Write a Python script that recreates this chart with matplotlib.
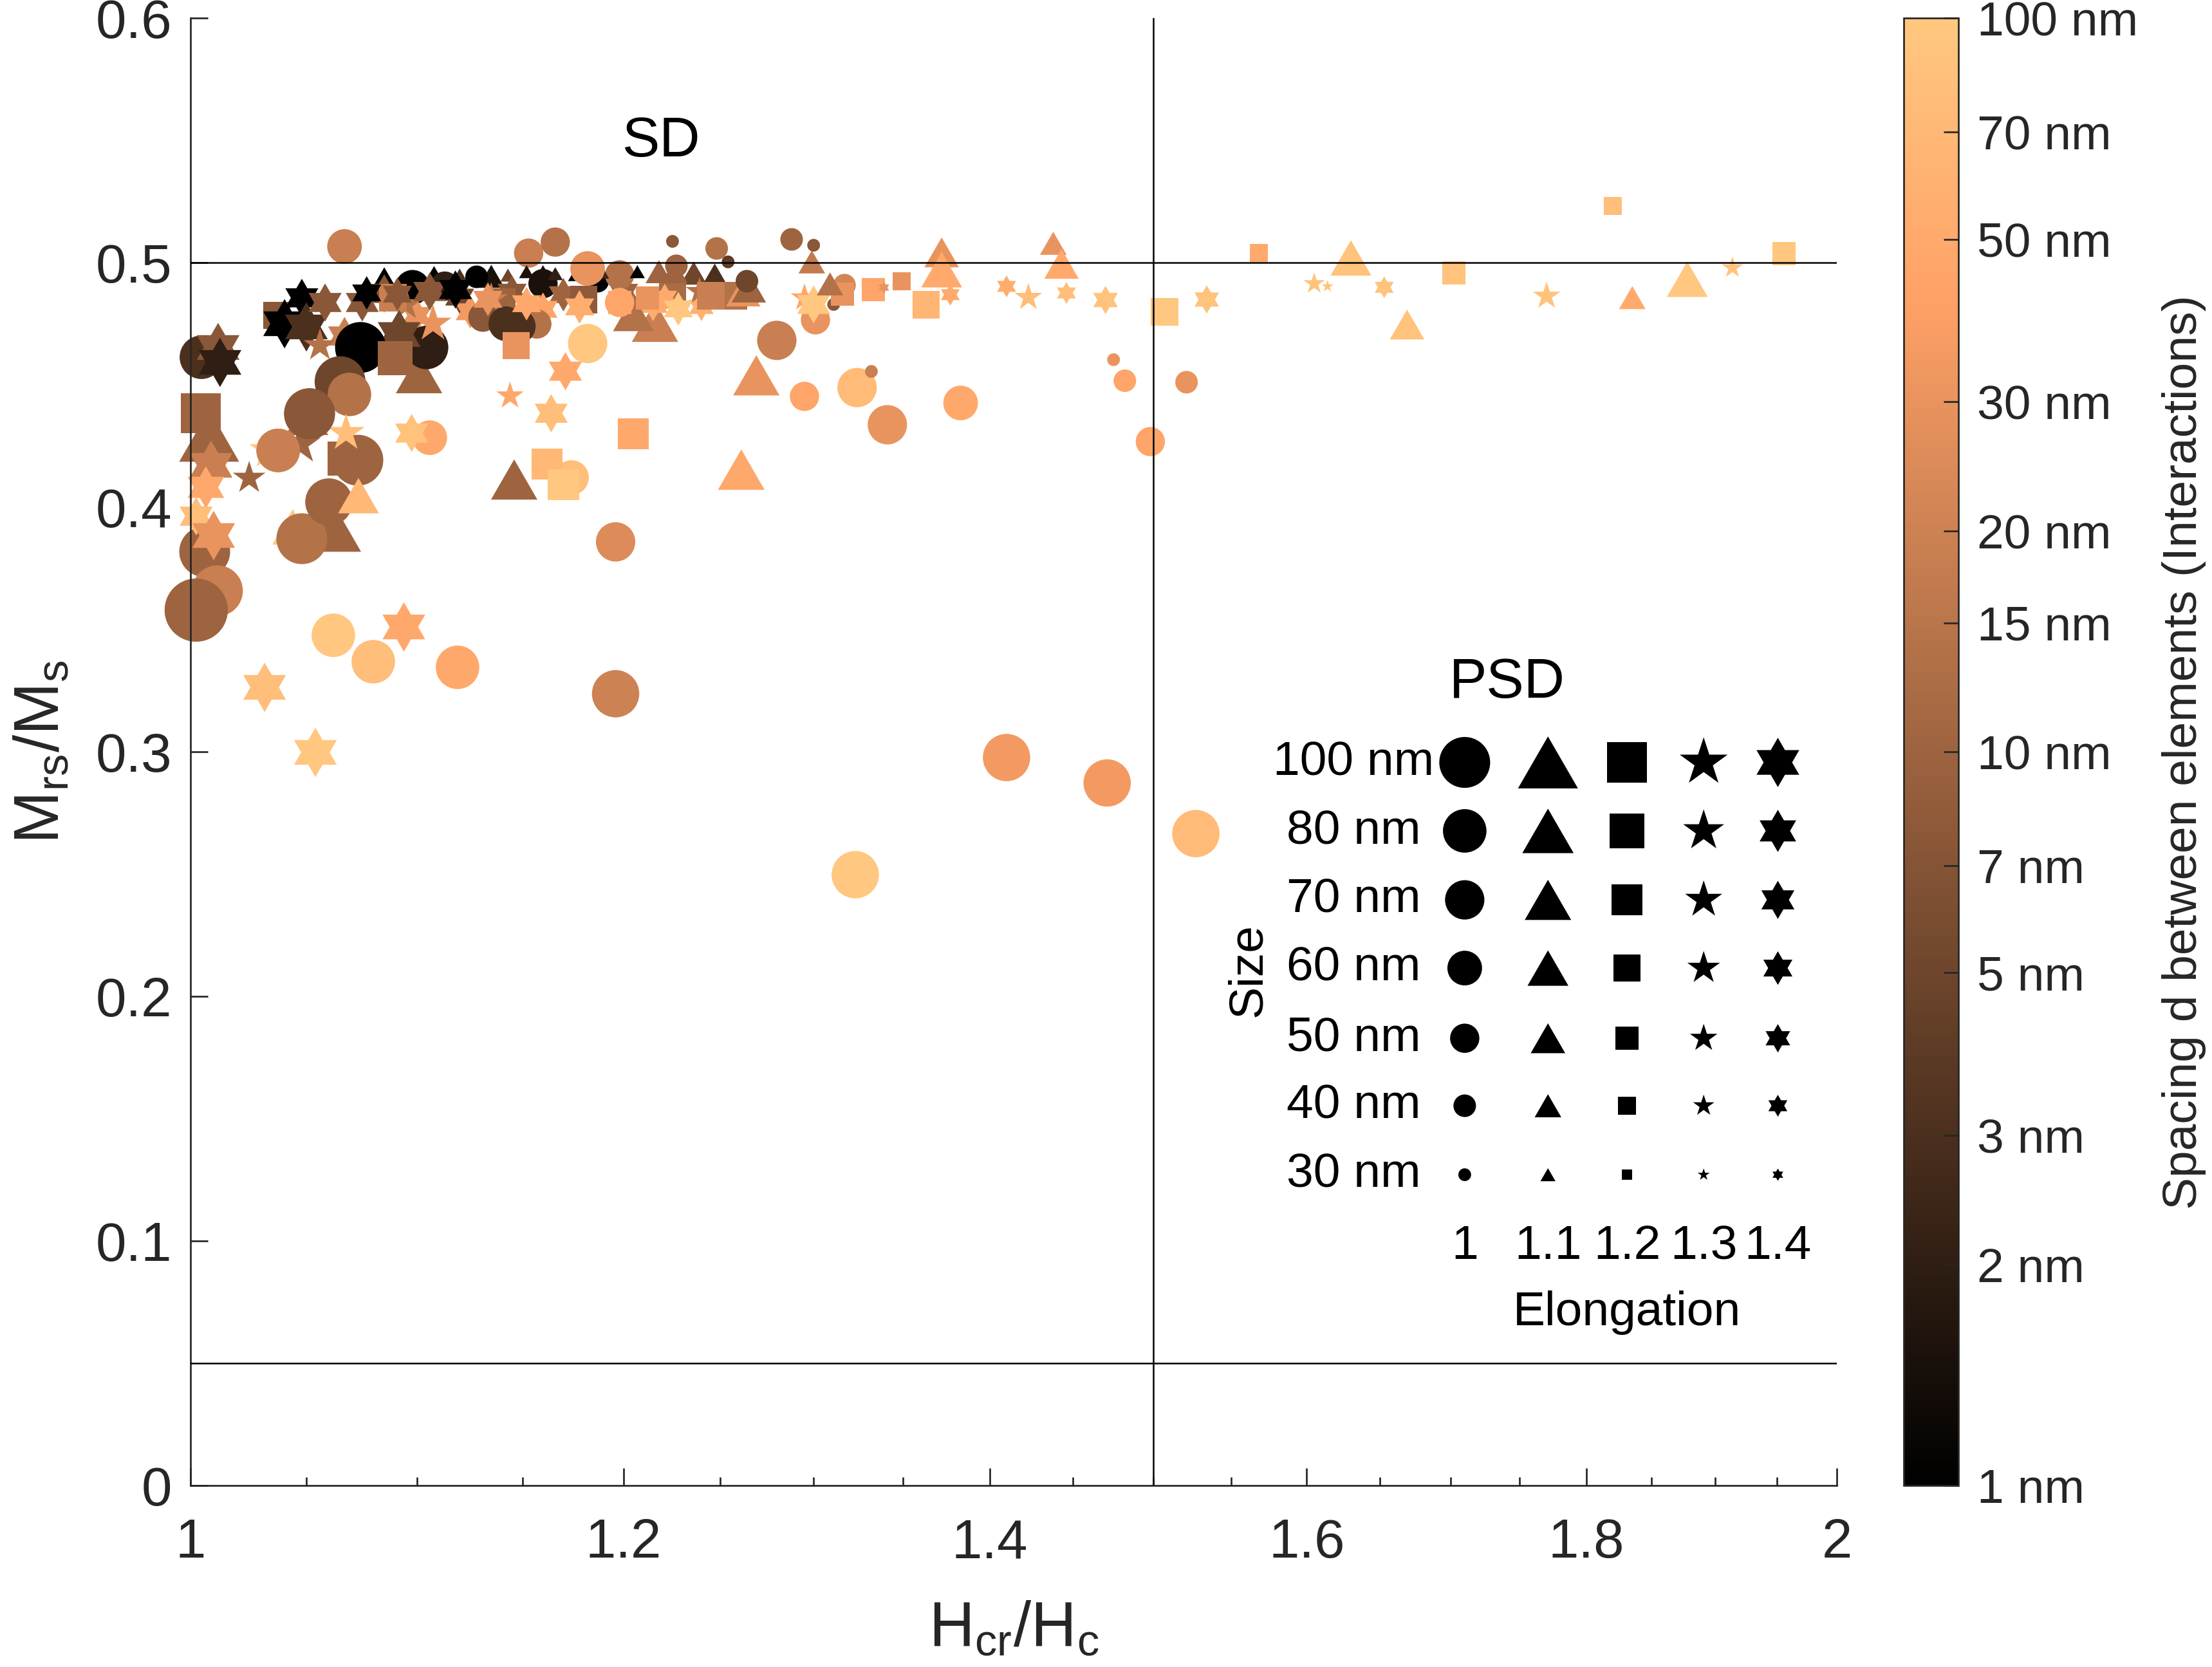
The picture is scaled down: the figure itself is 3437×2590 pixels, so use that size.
import numpy as np
import matplotlib
matplotlib.use('Agg')
import matplotlib.pyplot as plt
from matplotlib.colors import LogNorm
from matplotlib.path import Path
from matplotlib.ticker import FixedLocator, NullLocator, FixedFormatter, NullFormatter
import matplotlib.cm as cm

plt.rcParams['font.family'] = ['Liberation Sans', 'DejaVu Sans']
plt.rcParams['mathtext.default'] = 'regular'

# ---------------- data ----------------
# elongation: 1 -> circle, 1.1 -> triangle, 1.2 -> square, 1.3 -> pentagram, 1.4 -> hexagram
elongation = [
    1.1, 1.1, 1.1, 1.1, 1.1, 1.1, 1.1, 1.1, 1.1, 1.1,
    1.0, 1.0, 1.0, 1.0,
    1.4, 1.4, 1.4, 1.4, 1.4, 1.2, 1.2, 1.2, 1.2, 1.4, 1.4, 1.4, 1.3, 1.3, 1.4,
    1.2, 1.0, 1.4, 1.4, 1.2, 1.1, 1.4, 1.4, 1.0, 1.4, 1.0, 1.4, 1.0, 1.4, 1.3, 1.4,
    1.4, 1.4, 1.3, 1.4, 1.4, 1.0, 1.0, 1.0, 1.2,
    1.0, 1.0, 1.0, 1.0, 1.0, 1.1, 1.1, 1.0, 1.2, 1.0, 1.0, 1.3, 1.4, 1.2, 1.3, 1.1,
    1.1, 1.4, 1.3, 1.0, 1.0, 1.0, 1.0, 1.0,
    1.0, 1.1, 1.0, 1.0, 1.0, 1.0, 1.0, 1.1,
    1.0, 1.0, 1.0, 1.4, 1.3, 1.4, 1.2, 1.1, 1.0, 1.2, 1.2,
    1.4, 1.4, 1.4, 1.4, 1.1, 1.1, 1.2, 1.3, 1.2, 1.1, 1.1, 1.0,
    1.1, 1.1, 1.1, 1.1, 1.1, 1.0, 1.0, 1.1, 1.1, 1.0, 1.2, 1.0, 1.0, 1.2, 1.4,
    1.0, 1.0, 1.4, 1.4, 1.2, 1.1, 1.4, 1.4, 1.3, 1.0, 1.3, 1.0, 1.4, 1.3,
    1.0, 1.0, 1.0, 1.0, 1.2, 1.1, 1.4, 1.4, 1.0, 1.3, 1.0, 1.2, 1.2, 1.1,
    1.0, 1.0, 1.4, 1.4, 1.4, 1.0, 1.0, 1.4, 1.0, 1.4, 1.4, 1.0, 1.1, 1.1,
    1.0, 1.0,
    1.0, 1.0, 1.0, 1.0, 1.1, 1.1, 1.1, 1.3, 1.3, 1.1, 1.1, 1.1, 1.3, 1.3,
    1.4, 1.4, 1.2, 1.4, 1.2, 1.4, 1.2, 1.2, 1.2, 1.2, 1.0,
]
hcr_hc = [
    1.085, 1.097, 1.108, 1.120, 1.135, 1.143, 1.176, 1.196, 1.236, 1.247,
    1.098, 1.113, 1.160, 1.187,
    1.085, 1.120, 1.145, 1.170, 1.200, 1.140, 1.180, 1.225, 1.257, 1.100, 1.125, 1.160, 1.095, 1.135, 1.240,
    1.037, 1.128, 1.048, 1.0404, 1.089, 1.101, 1.050, 1.0583, 1.131, 1.067, 1.142, 1.075, 1.1045, 1.077, 1.056, 1.0918,
    1.091, 1.106, 1.1075, 1.118, 1.1334, 1.0742, 1.065, 1.0692, 1.090,
    1.067, 1.0046, 1.0376, 1.0514, 1.006, 1.044, 1.0597, 1.048, 1.0044, 1.060, 1.073, 1.025, 1.0503, 1.067, 1.0474, 1.0079,
    1.0733, 1.0087, 1.0333, 1.0114, 1.0024, 1.062, 1.080, 1.119,
    1.153, 1.146, 1.166, 1.182, 1.174, 1.196, 1.196, 1.261,
    1.157, 1.148, 1.198, 1.171, 1.144, 1.164, 1.205, 1.216, 1.106, 1.147, 1.162,
    1.152, 1.178, 1.215, 1.221, 1.205, 1.269, 1.212, 1.239, 1.245, 1.262, 1.265, 1.264,
    1.152, 1.160, 1.166, 1.207, 1.189, 1.182, 1.198, 1.218, 1.226, 1.227, 1.198, 1.280, 1.295, 1.170, 1.228,
    1.225, 1.248, 1.0117, 1.0125, 1.0044, 1.299, 1.0065, 1.0024, 1.295, 1.317, 1.0677, 1.301, 1.300, 1.423,
    1.254, 1.288, 1.300, 1.311, 1.316, 1.309, 1.0098, 1.0976, 1.324, 1.0333, 1.332, 1.333, 1.349, 1.261,
    1.341, 1.383, 1.339, 1.377, 1.410, 1.471, 1.527, 1.0317, 1.323, 1.054, 1.094, 1.0376, 1.372, 1.372,
    1.0514, 1.0024,
    1.475, 1.482, 1.521, 1.498, 1.438, 1.443, 1.669, 1.770, 1.914, 1.878, 1.835, 1.630, 1.605, 1.614,
    1.446, 1.470, 1.363, 1.653, 1.568, 1.534, 1.507, 1.702, 1.820, 1.956, 1.410,
]
mrs_ms = [
    0.4935, 0.4945, 0.4940, 0.4950, 0.4945, 0.4950, 0.4952, 0.4950, 0.4958, 0.4950,
    0.4900, 0.4905, 0.4915, 0.4925,
    0.4875, 0.4860, 0.4880, 0.4870, 0.4880, 0.4840, 0.4850, 0.4870, 0.4865, 0.4785, 0.4800, 0.4810, 0.4830, 0.4850, 0.4820,
    0.4785, 0.4943, 0.4857, 0.4751, 0.4857, 0.4549, 0.4738, 0.4838, 0.4778, 0.4701, 0.4751, 0.4838, 0.4654, 0.4877, 0.4662, 0.4707,
    0.4872, 0.4883, 0.4751, 0.4891, 0.4851, 0.4654, 0.4514, 0.4462, 0.4610,
    0.5067, 0.4614, 0.4233, 0.4383, 0.3819, 0.3920, 0.3935, 0.3872, 0.4385, 0.4022, 0.4193, 0.4120, 0.4346, 0.4200, 0.4259, 0.4293,
    0.4048, 0.4172, 0.4233, 0.3659, 0.3580, 0.3477, 0.3369, 0.3346,
    0.5040, 0.4114, 0.5085, 0.4670, 0.4122, 0.3859, 0.3238, 0.4154,
    0.4750, 0.4741, 0.4951, 0.4557, 0.4456, 0.4385, 0.4301, 0.4759, 0.4285, 0.4662, 0.4178,
    0.4833, 0.4820, 0.4830, 0.4857, 0.4793, 0.4540, 0.4857, 0.4883, 0.4865, 0.4883, 0.4899, 0.4925,
    0.4964, 0.4964, 0.4956, 0.4964, 0.4962, 0.4977, 0.4838, 0.4964, 0.4964, 0.4988, 0.4838, 0.4683, 0.4454, 0.4093, 0.4812,
    0.5088, 0.5059, 0.4654, 0.4593, 0.4385, 0.5004, 0.4082, 0.3964, 0.4857, 0.4909, 0.4304, 0.4767, 0.4830, 0.4859,
    0.5004, 0.5096, 0.5072, 0.4830, 0.4872, 0.4914, 0.3885, 0.4304, 0.4490, 0.4233, 0.4556, 0.4891, 0.4925, 0.4154,
    0.4338, 0.4427, 0.4899, 0.4870, 0.4904, 0.2873, 0.2666, 0.3264, 0.2498, 0.2998, 0.3511, 0.4233, 0.5043, 0.4972,
    0.4383, 0.3580,
    0.4604, 0.4518, 0.4512, 0.4269, 0.5080, 0.4996, 0.4748, 0.4864, 0.4980, 0.4933, 0.4858, 0.5020, 0.4915, 0.4904,
    0.4877, 0.4848, 0.4828, 0.4900, 0.5040, 0.4850, 0.4800, 0.4960, 0.5233, 0.5037, 0.2977,
]
spacing_nm = [
    1, 2, 1, 3, 1.5, 5, 1, 3, 5, 3,
    1, 2, 1.5, 1,
    7.5, 5, 7.5, 10, 10, 10, 8, 12, 14, 30, 35, 45, 14, 19, 60,
    7.5, 1, 1, 1, 19, 10, 3, 7.5, 7.5, 19, 3, 7.5, 2, 1, 14, 5,
    7.5, 7.5, 30, 1, 30, 1, 5, 14, 10,
    19, 3, 19, 7.5, 10, 100, 10, 14, 10, 10, 10, 10, 14, 10, 10, 10,
    70, 19, 100, 19, 10, 100, 80, 48,
    19, 10, 14, 100, 80, 25, 20, 48,
    14, 3, 14, 48, 48, 80, 48, 19, 48, 30, 70,
    48, 55, 55, 50, 14, 30, 30, 14, 19, 30, 10, 5,
    1.5, 1.5, 2, 1, 2.5, 30, 45, 10, 10, 10, 45, 19, 45, 100, 100,
    7.5, 14, 7.5, 2, 10, 17, 48, 80, 45, 22, 80, 30, 100, 80,
    4, 10, 7.5, 7.5, 30, 14, 30, 90, 75, 100, 19, 45, 30, 48,
    30, 48, 30, 50, 55, 35, 75, 80, 100, 100, 48, 19, 30, 50,
    7.5, 10,
    30, 45, 30, 45, 30, 50, 90, 90, 90, 100, 50, 90, 90, 90,
    80, 90, 65, 90, 50, 90, 100, 90, 80, 100, 35,
]
size_nm = [
    40, 30, 40, 30, 40, 30, 30, 30, 40, 40,
    60, 50, 50, 40,
    70, 60, 60, 60, 60, 60, 60, 60, 60, 60, 60, 60, 60, 60, 50,
    60, 40, 70, 100, 60, 70, 100, 70, 50, 70, 60, 70, 80, 60, 60, 100,
    60, 70, 70, 70, 60, 100, 100, 80, 80,
    60, 80, 80, 100, 100, 60, 115, 100, 100, 90, 100, 60, 100, 80, 80, 100,
    60, 100, 70, 100, 140, 80, 80, 80,
    50, 70, 50, 70, 60, 70, 90, 70,
    50, 60, 50, 70, 50, 70, 70, 70, 60, 60, 70,
    60, 60, 60, 50, 60, 70, 50, 50, 60, 50, 50, 40,
    30, 30, 30, 30, 30, 60, 50, 40, 40, 40, 50, 70, 50, 70, 60,
    30, 40, 100, 100, 100, 40, 80, 70, 50, 40, 70, 50, 70, 50,
    30, 40, 30, 30, 50, 40, 100, 70, 70, 70, 30, 50, 40, 70,
    70, 60, 30, 40, 40, 90, 90, 100, 90, 100, 100, 80, 50, 60,
    100, 140,
    30, 40, 40, 50, 40, 50, 50, 50, 40, 60, 40, 60, 40, 30,
    40, 50, 60, 40, 40, 50, 60, 50, 40, 50, 90,
]

legend_sizes = [100, 80, 70, 60, 50, 40, 30]
legend_elong = [1, 1.1, 1.2, 1.3, 1.4]
cbar_ticks = [1, 2, 3, 5, 7, 10, 15, 20, 30, 50, 70, 100]

# ---------------- markers ----------------
tri_path = Path([(-0.5, -0.433), (0.5, -0.433), (0.0, 0.433), (-0.5, -0.433)],
                [Path.MOVETO, Path.LINETO, Path.LINETO, Path.CLOSEPOLY])
hv = []
for k in range(12):
    ang = np.pi / 2 + k * np.pi / 6
    r = 0.5 if k % 2 == 0 else 0.5 / np.sqrt(3)
    hv.append((r * np.cos(ang), r * np.sin(ang)))
hv.append(hv[0])
hex_path = Path(hv, [Path.MOVETO] + [Path.LINETO] * 11 + [Path.CLOSEPOLY])

marker_of = {1.0: 'o', 1.1: tri_path, 1.2: 's', 1.3: '*', 1.4: hex_path}
factor_of = {1.0: 1.0, 1.1: 1.18, 1.2: 0.79, 1.3: 0.99, 1.4: 0.97}


def area(size, e):
    d2 = 4.815 * (size - 25.3)
    return factor_of[round(e, 1)] ** 2 * d2


norm = LogNorm(vmin=1, vmax=100)
cmap = plt.get_cmap('copper')

fig = plt.figure(figsize=(3437 / 300, 2590 / 300), dpi=300)
ax = fig.add_axes([0.08612, 0.10888, 0.74425, 0.88012])
cax = fig.add_axes([0.86063, 0.10888, 0.02473, 0.88012])

ax.set_xscale('log')
ax.set_xlim(1, 2)
ax.set_ylim(0, 0.6)

n = min(len(hcr_hc), len(mrs_ms), len(spacing_nm), len(size_nm), len(elongation))
for i in range(n):
    e = round(elongation[i], 1)
    ax.scatter([hcr_hc[i]], [mrs_ms[i]], s=area(size_nm[i], e), c=[spacing_nm[i]],
               cmap=cmap, norm=norm, marker=marker_of[e], edgecolors='none',
               linewidths=0, zorder=2, clip_on=False)

# reference lines
ax.plot([1, 2], [0.5, 0.5], color='k', lw=0.6, zorder=5)
ax.plot([1, 2], [0.05, 0.05], color='k', lw=0.6, zorder=5)
ax.plot([1.5, 1.5], [0, 0.6], color='k', lw=0.6, zorder=5)

# legend grid
leg_y = [0.2957, 0.2677, 0.2395, 0.2116, 0.1829, 0.1553, 0.1271]
leg_x = [1.710, 1.771, 1.831, 1.891, 1.951]
for i, sz in enumerate(legend_sizes):
    for j, e in enumerate(legend_elong):
        ax.scatter([leg_x[j]], [leg_y[i]], s=area(sz, e), color='k',
                   marker=marker_of[round(e, 1)], edgecolors='none', zorder=6)
    ax.text(1.632, leg_y[i], f'{sz} nm', fontsize=18, ha='center', va='center', color='k')
for j, e in enumerate(legend_elong):
    lab = '1' if e == 1 else f'{e:.1f}'
    ax.text(leg_x[j], 0.0977, lab, fontsize=18, ha='center', va='center', color='k')
ax.text(1.831, 0.0708, 'Elongation', fontsize=18, ha='center', va='center', color='k')
ax.text(1.741, 0.328, 'PSD', fontsize=21, ha='center', va='center', color='k')
ax.text(1.561, 0.2108, 'Size', fontsize=18, ha='center', va='center', rotation=90, color='k')
ax.text(1.219, 0.5494, 'SD', fontsize=21, ha='center', va='center', color='k')

# axes styling
for sp in ['top', 'right']:
    ax.spines[sp].set_visible(False)
for sp in ['left', 'bottom']:
    ax.spines[sp].set_color('#262626')
    ax.spines[sp].set_linewidth(0.65)

ax.xaxis.set_major_locator(FixedLocator([1, 1.2, 1.4, 1.6, 1.8, 2]))
ax.xaxis.set_major_formatter(FixedFormatter(['1', '1.2', '1.4', '1.6', '1.8', '2']))
ax.xaxis.set_minor_locator(FixedLocator([1.05, 1.1, 1.15, 1.25, 1.3, 1.35, 1.45, 1.5, 1.55,
                                         1.65, 1.7, 1.75, 1.85, 1.9, 1.95]))
ax.xaxis.set_minor_formatter(NullFormatter())
ax.set_yticks([0, 0.1, 0.2, 0.3, 0.4, 0.5, 0.6])
ax.set_yticklabels(['0', '0.1', '0.2', '0.3', '0.4', '0.5', '0.6'])
ax.yaxis.set_minor_locator(NullLocator())
ax.tick_params(which='major', direction='in', length=6.5, width=0.65, labelsize=20.5,
               colors='#262626')
ax.tick_params(which='minor', direction='in', length=3.2, width=0.65, colors='#262626')
ax.tick_params(axis='x', which='major', pad=12)
ax.tick_params(axis='y', which='major', pad=7)

ax.set_xlabel('H$_{cr}$/H$_c$', fontsize=23.5, color='#262626', va='center')
ax.xaxis.set_label_coords(0.5, -0.098)
ax.set_ylabel('M$_{rs}$/M$_s$', fontsize=23.5, color='#262626', va='center')
ax.yaxis.set_label_coords(-0.090, 0.5)

# colorbar
sm = cm.ScalarMappable(norm=norm, cmap=cmap)
cb = fig.colorbar(sm, cax=cax)
cb.set_ticks(cbar_ticks)
cb.set_ticklabels([f'{t} nm' for t in cbar_ticks])
cb.ax.yaxis.set_minor_locator(NullLocator())
cb.ax.tick_params(which='major', direction='in', length=5.5, width=0.65, labelsize=18,
                  pad=7, colors='#262626')
cb.outline.set_edgecolor('#262626')
cb.outline.set_linewidth(0.65)
cb.set_label('Spacing d between elements (Interactions)', fontsize=18, color='#262626',
             rotation=90, va='center')
cb.ax.yaxis.set_label_coords(5.12, 0.5)

fig.savefig('out.png', dpi=300)
